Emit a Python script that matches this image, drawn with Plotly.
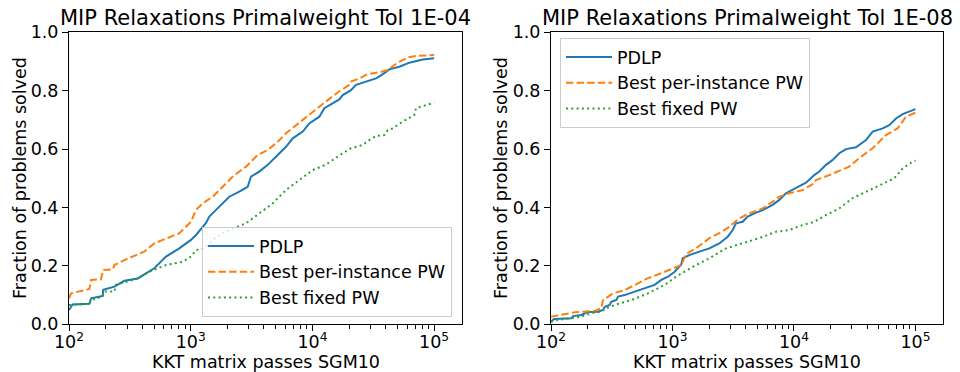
import plotly.graph_objects as go

# ---------------- data ----------------
titles = ["MIP Relaxations Primalweight Tol 1E-04", "MIP Relaxations Primalweight Tol 1E-08"]
series_names = ["PDLP", "Best per-instance PW", "Best fixed PW"]
x_label = "KKT matrix passes SGM10"
y_label = "Fraction of problems solved"

# Left panel (Tol 1E-04)
pdlp_4_x = [100, 107, 147, 152, 189, 191, 236, 285, 367, 429, 502, 627, 806, 1005, 1106, 1336, 1422,
            1718, 2076, 2508, 2939, 3128, 3662, 4294, 5021, 6067, 6890, 8325, 9434, 11400, 12530,
            14680, 16630, 17740, 20750, 22810, 27560, 33340, 38990, 42850, 51770, 62550, 80560, 100000]
pdlp_4_y = [0.049, 0.068, 0.070, 0.089, 0.097, 0.118, 0.129, 0.149, 0.157, 0.175, 0.192, 0.232, 0.260,
            0.289, 0.306, 0.347, 0.369, 0.403, 0.437, 0.454, 0.471, 0.506, 0.523, 0.546, 0.574, 0.608,
            0.637, 0.660, 0.688, 0.711, 0.740, 0.757, 0.770, 0.785, 0.802, 0.820, 0.831, 0.842, 0.860,
            0.873, 0.882, 0.896, 0.907, 0.911]

best_4_x = [100, 104, 147, 152, 183, 191, 229, 236, 285, 334, 415, 502, 627, 806, 1005, 1106, 1255,
            1516, 1832, 2214, 2847, 3553, 4294, 5188, 6067, 7101, 8858, 10370, 12530, 15140, 16630,
            20110, 20750, 24290, 28460, 35450, 41560, 47140, 51770, 60690, 71000, 100000]
best_4_y = [0.089, 0.106, 0.121, 0.152, 0.154, 0.186, 0.188, 0.203, 0.220, 0.232, 0.249, 0.277, 0.294,
            0.312, 0.351, 0.392, 0.414, 0.437, 0.471, 0.506, 0.540, 0.580, 0.597, 0.625, 0.654, 0.677,
            0.711, 0.734, 0.759, 0.785, 0.798, 0.820, 0.831, 0.842, 0.857, 0.863, 0.871, 0.888, 0.899,
            0.914, 0.919, 0.922]

fixed_4_x = [100, 147, 152, 189, 195, 236, 243, 367, 457, 627, 859, 1005, 1106, 1294, 1614, 2076, 2847,
             3662, 4718, 6067, 7803, 10050, 12940, 14680, 17740, 20750, 25900, 29360, 33340, 38990,
             41560, 45700, 55200, 68770, 71000, 100000]
fixed_4_y = [0.066, 0.070, 0.083, 0.095, 0.112, 0.112, 0.135, 0.157, 0.180, 0.203, 0.214, 0.232, 0.254,
             0.260, 0.300, 0.323, 0.346, 0.380, 0.414, 0.460, 0.494, 0.528, 0.547, 0.563, 0.586, 0.603,
             0.614, 0.631, 0.645, 0.648, 0.665, 0.671, 0.694, 0.717, 0.740, 0.759]

# Right panel (Tol 1E-08)
pdlp_8_x = [100, 106, 147, 152, 177, 202, 244, 268, 277, 304, 313, 345, 356, 404, 489, 590, 713, 809,
            918, 1042, 1181, 1213, 1375, 1663, 2010, 2429, 2847, 3129, 3333, 3784, 4159, 4712, 5524,
            6677, 7571, 8590, 10380, 12560, 14690, 16150, 18330, 20820, 23600, 26800, 32380, 39160,
            44430, 53700, 60840, 69120, 78480, 88950, 100000]
pdlp_8_y = [0.009, 0.018, 0.021, 0.028, 0.032, 0.042, 0.043, 0.049, 0.060, 0.066, 0.077, 0.083, 0.095,
            0.100, 0.112, 0.123, 0.135, 0.152, 0.163, 0.180, 0.205, 0.226, 0.237, 0.249, 0.260, 0.277,
            0.300, 0.323, 0.346, 0.351, 0.369, 0.380, 0.391, 0.409, 0.426, 0.449, 0.466, 0.485, 0.511,
            0.523, 0.546, 0.563, 0.586, 0.600, 0.606, 0.631, 0.660, 0.671, 0.682, 0.705, 0.720, 0.728,
            0.737]

best_8_x = [100, 122, 157, 229, 259, 268, 294, 324, 404, 489, 629, 809, 1042, 1181, 1291, 1561, 2010,
            2429, 2933, 3548, 4288, 5524, 6677, 7571, 9150, 11800, 14690, 15170, 19530, 28510, 34450,
            44430, 57150, 71280, 83530, 100000]
best_8_y = [0.026, 0.032, 0.041, 0.046, 0.055, 0.083, 0.095, 0.106, 0.117, 0.135, 0.158, 0.175, 0.192,
            0.203, 0.240, 0.260, 0.295, 0.312, 0.334, 0.363, 0.380, 0.397, 0.420, 0.437, 0.449, 0.460,
            0.483, 0.494, 0.511, 0.540, 0.569, 0.603, 0.648, 0.671, 0.711, 0.725]

fixed_8_x = [100, 114, 147, 177, 215, 259, 285, 334, 458, 629, 863, 1069, 1467, 2010, 2756, 3784, 5179,
             7112, 9150, 11800, 14690, 18330, 23600, 30410, 39160, 50350, 66990, 78480, 94800, 100000]
fixed_8_y = [0.009, 0.015, 0.021, 0.026, 0.038, 0.043, 0.055, 0.066, 0.083, 0.106, 0.135, 0.163, 0.197,
             0.226, 0.260, 0.277, 0.295, 0.317, 0.323, 0.340, 0.351, 0.374, 0.397, 0.432, 0.454, 0.477,
             0.500, 0.534, 0.557, 0.560]

major_ticks = [100, 1000, 10000, 100000]
major_text = ["10<sup>2</sup>", "10<sup>3</sup>", "10<sup>4</sup>", "10<sup>5</sup>"]
minor_ticks = [m * 10 ** e for e in (2, 3, 4) for m in range(2, 10)]
y_ticks = [0.0, 0.2, 0.4, 0.6, 0.8, 1.0]

# ---------------- styling ----------------
W, H = 960, 372
FONT = "DejaVu Sans"
colors = ["#1f77b4", "#ff7f0e", "#2ca02c"]
dashes = ["solid", "7.4px,3.2px", "2px,3.3px"]

panels = [
    dict(xs=[pdlp_4_x, best_4_x, fixed_4_x], ys=[pdlp_4_y, best_4_y, fixed_4_y],
         px=(69, 462), legend="legend"),
    dict(xs=[pdlp_8_x, best_8_x, fixed_8_x], ys=[pdlp_8_y, best_8_y, fixed_8_y],
         px=(551, 943.3), legend="legend2"),
]
top_px, bot_px = 32.3, 324.3
ydom = [(H - bot_px) / H, (H - top_px) / H]

fig = go.Figure()
for i, p in enumerate(panels):
    ax = "" if i == 0 else "2"
    for j in range(3):
        fig.add_trace(go.Scatter(
            x=p["xs"][j], y=p["ys"][j], mode="lines", name=series_names[j],
            line=dict(color=colors[j], width=2, dash=dashes[j]),
            xaxis="x" + ax, yaxis="y" + ax, legend=p["legend"],
            showlegend=True,
        ))

axis_common = dict(
    showline=True, linecolor="black", linewidth=1, mirror=True,
    ticks="outside", ticklen=6, tickwidth=1, tickcolor="black",
    showgrid=False, zeroline=False, automargin=False,
    tickfont=dict(family=FONT, size=17.5, color="black"),
)
xr = [2, 5.229]
for i, p in enumerate(panels):
    ax = "" if i == 0 else "2"
    xd = [p["px"][0] / W, p["px"][1] / W]
    fig.update_layout(**{
        "xaxis" + ax: dict(
            axis_common, type="log", range=xr, domain=xd, anchor="y" + ax,
            tickmode="array", tickvals=major_ticks, ticktext=major_text,
            ticklabelstandoff=-4,
            minor=dict(tickmode="array", tickvals=minor_ticks, ticks="outside",
                       ticklen=3.5, tickwidth=1, tickcolor="black", showgrid=False),
        ),
        "yaxis" + ax: dict(
            axis_common, range=[0, 1], domain=ydom, anchor="x" + ax,
            tickmode="array", tickvals=y_ticks, tickformat=".1f",
        ),
    })

annotations = []
for i, p in enumerate(panels):
    cx = (p["px"][0] + p["px"][1]) / 2 / W
    annotations.append(dict(text=titles[i], x=cx, y=1 - 18 / H, xref="paper", yref="paper",
                            xanchor="center", yanchor="middle", showarrow=False,
                            font=dict(family=FONT, size=21, color="black")))
    annotations.append(dict(text=x_label, x=cx, y=1 - 361.5 / H, xref="paper", yref="paper",
                            xanchor="center", yanchor="middle", showarrow=False,
                            font=dict(family=FONT, size=17.5, color="black")))
    lx = (20 if i == 0 else 501) / W
    annotations.append(dict(text=y_label, x=lx, y=1 - 178 / H, xref="paper", yref="paper",
                            xanchor="center", yanchor="middle", showarrow=False, textangle=-90,
                            font=dict(family=FONT, size=17.5, color="black")))

legend_common = dict(
    bgcolor="rgba(255,255,255,0.8)", bordercolor="#cccccc", borderwidth=1,
    font=dict(family=FONT, size=17.5, color="black"),
    itemwidth=46,
    xref="paper", yref="paper",
)

fig.update_layout(
    width=W, height=H, margin=dict(l=0, r=0, t=0, b=0),
    paper_bgcolor="white", plot_bgcolor="white",
    font=dict(family=FONT, color="black"),
    annotations=annotations,
    legend=dict(legend_common, x=452 / W, y=(H - 317) / H, xanchor="right", yanchor="bottom"),
    legend2=dict(legend_common, x=560 / W, y=(H - 38) / H, xanchor="left", yanchor="top"),
)

fig.write_html("out.html")
